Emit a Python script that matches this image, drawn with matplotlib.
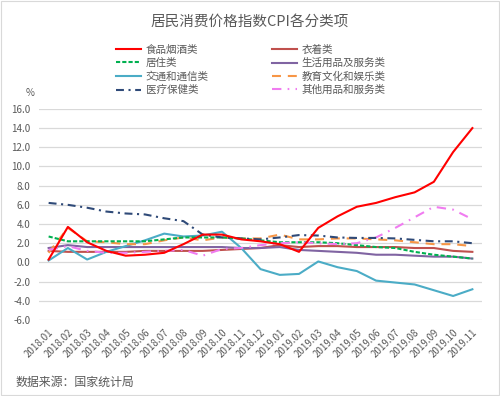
import matplotlib
matplotlib.use("Agg")
import matplotlib.pyplot as plt
from matplotlib.patches import Rectangle

plt.rcParams['font.family'] = ['Noto Sans CJK SC', 'DejaVu Sans']

months = ['2018.01', '2018.02', '2018.03', '2018.04', '2018.05', '2018.06',
          '2018.07', '2018.08', '2018.09', '2018.10', '2018.11', '2018.12',
          '2019.01', '2019.02', '2019.03', '2019.04', '2019.05', '2019.06',
          '2019.07', '2019.08', '2019.09', '2019.10', '2019.11']

food = [0.3, 3.7, 2.1, 1.2, 0.7, 0.8, 1.0, 1.9, 2.9, 2.9, 2.4, 2.2,
        1.9, 1.1, 3.6, 4.8, 5.8, 6.2, 6.8, 7.3, 8.4, 11.5, 14.0]
clothing = [1.2, 1.1, 1.1, 1.1, 1.1, 1.2, 1.2, 1.2, 1.2, 1.3, 1.4, 1.5,
            1.8, 1.6, 1.7, 1.7, 1.6, 1.6, 1.6, 1.5, 1.5, 1.2, 1.1]
housing = [2.7, 2.2, 2.2, 2.2, 2.2, 2.2, 2.4, 2.6, 2.6, 2.6, 2.5, 2.3,
           2.1, 2.1, 2.1, 2.0, 1.8, 1.6, 1.5, 1.1, 0.8, 0.6, 0.4]
household = [1.5, 1.8, 1.6, 1.6, 1.6, 1.6, 1.6, 1.6, 1.6, 1.6, 1.5, 1.5,
             1.6, 1.3, 1.2, 1.1, 1.0, 0.8, 0.8, 0.7, 0.6, 0.6, 0.4]
transport = [0.2, 1.5, 0.3, 1.1, 1.7, 2.3, 3.0, 2.7, 2.8, 3.2, 1.5, -0.7,
             -1.3, -1.2, 0.1, -0.5, -0.9, -1.9, -2.1, -2.3, -2.9, -3.5, -2.8]
education = [1.0, 3.6, 2.2, 2.1, 1.9, 1.9, 2.3, 2.6, 2.3, 2.6, 2.5, 2.5,
             2.9, 2.4, 2.4, 2.5, 2.5, 2.4, 2.3, 2.1, 1.9, 1.9, 1.7]
health = [6.2, 6.0, 5.7, 5.3, 5.1, 5.0, 4.6, 4.3, 2.9, 2.6, 2.5, 2.4,
          2.6, 2.85, 2.8, 2.6, 2.55, 2.55, 2.5, 2.35, 2.2, 2.2, 2.0]
other = [1.3, 1.7, 1.2, 1.0, 1.0, 1.1, 1.2, 1.3, 0.7, 1.4, 1.5, 1.8,
         2.0, 2.1, 2.0, 1.9, 2.0, 2.6, 3.6, 4.7, 5.8, 5.5, 4.5]

grey = '#595959'
fig = plt.figure(figsize=(5, 3.96), dpi=100)
ax = fig.add_axes([0.078, 0.192, 0.886, 0.533])

x = range(len(months))
# drawn back to front, legend order fixed below
l_cloth, = ax.plot(x, clothing, color='#C0504D', lw=1.5, label='衣着类')
l_house, = ax.plot(x, household, color='#8064A2', lw=1.5, label='生活用品及服务类')
l_trans, = ax.plot(x, transport, color='#4BACC6', lw=1.5, label='交通和通信类')
l_edu, = ax.plot(x, education, color='#F79646', lw=1.5, ls=(0, (4.3, 3.3)), label='教育文化和娱乐类')
l_hous, = ax.plot(x, housing, color='#00B050', lw=1.5, ls=(0, (2, 1)), label='居住类')
l_other, = ax.plot(x, other, color='#F07CF0', lw=1.5, ls=(0, (4.5, 3, 0.8, 3)), label='其他用品和服务类')
l_health, = ax.plot(x, health, color='#2F4A78', lw=1.5, ls=(0, (3.8, 2.2, 1, 2.2)), label='医疗保健类')
l_food, = ax.plot(x, food, color='#FF0000', lw=1.5, label='食品烟酒类')

ax.set_xlim(-0.5, len(months) - 0.5)
ax.set_ylim(-6, 16)
ax.set_yticks(range(-6, 17, 2))
ax.set_yticklabels(['%.1f' % v for v in range(-6, 17, 2)])
ax.set_xticks(list(x))
ax.set_xticklabels(months, rotation=45, ha='right', rotation_mode='anchor')
ax.tick_params(length=0, labelsize=7, colors=grey)
ax.tick_params(axis='y', pad=6)
ax.tick_params(axis='x', pad=5)
ax.grid(axis='y', color='#D9D9D9', lw=0.9)
ax.set_axisbelow(True)
for s in ax.spines.values():
    s.set_visible(False)

fig.text(0.5, 1 - 22 / 396, '居民消费价格指数CPI各分类项', ha='center', va='center',
         fontsize=10.5, color=grey)
fig.text(26 / 500, 1 - 93 / 396, '%', ha='left', va='center', fontsize=7, color=grey)
fig.text(15 / 500, 1 - 382 / 396, '数据来源：国家统计局', ha='left', va='center',
         fontsize=8.6, color=grey)

handles = [l_food, l_hous, l_trans, l_health, l_cloth, l_house, l_edu, l_other]
fig.legend(handles=handles, labels=[h.get_label() for h in handles], ncol=2,
           loc='upper left', bbox_to_anchor=(116 / 500, 1 - 45 / 396),
           frameon=False, fontsize=7.6, handlelength=2.4, handletextpad=0.4,
           columnspacing=6.0, labelspacing=0.3, borderpad=0, borderaxespad=0,
           labelcolor=grey)

fig.patches.append(Rectangle((0.002, 0.002), 0.996, 0.996, transform=fig.transFigure,
                             fill=False, edgecolor='#D9D9D9', lw=0.8))

fig.savefig('out.png', dpi=100)
